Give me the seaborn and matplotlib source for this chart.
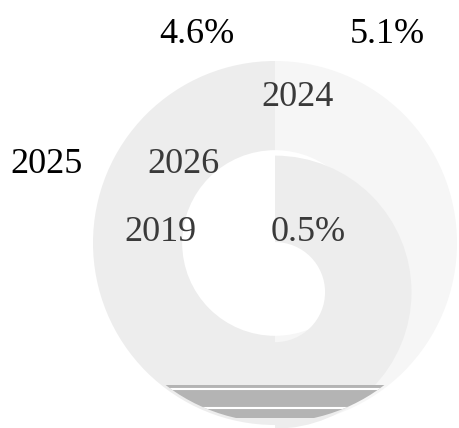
import matplotlib
matplotlib.use("Agg")
import matplotlib.pyplot as plt
import matplotlib.patches as mpatches
import seaborn as sns

# ── Data ──────────────────────────────────────────────────────────────────────
outer_years  = ["2025", "2024"]
outer_share  = [50, 50]
inner_years  = ["2026", "2019"]
inner_share  = [50, 50]
label_texts  = ["4.6%", "5.1%", "2025", "2024", "2026", "2019", "0.5%"]

# ── Layout / style ────────────────────────────────────────────────────────────
label_pos = [(-0.429, 1.17), (0.615, 1.17), (-1.253, 0.451), (0.126, 0.819),
             (-0.505, 0.451), (-0.632, 0.082), (0.181, 0.082)]
label_col = ["black", "black", "black", "#3a3a3a", "#3a3a3a", "#3a3a3a", "#3a3a3a"]

sns.set_theme(style="white")
plt.rcParams["font.family"] = ["Liberation Serif", "DejaVu Serif"]

fig = plt.figure(figsize=(4.59, 4.28), dpi=100)
ax = fig.add_axes([0, 0, 1, 1])
ax.set_axis_off()

# outer ring: left half mid grey, right half lighter
ax.pie(outer_share, colors=["#ededed", "#f6f6f6"], startangle=90, radius=1.0,
       wedgeprops=dict(width=0.49, linewidth=0))

# inner ring (drawn slightly off-centre, only its right half is visible)
inner, _ = ax.pie(inner_share, colors=["#ededed", "#ededed"], startangle=90,
                  radius=0.75, center=(0, -0.27),
                  wedgeprops=dict(width=0.475, linewidth=0))
inner[0].set_visible(False)

# grey strip artefact at the bottom of the ring
ring = mpatches.Circle((0, 0), 0.985, facecolor="none", edgecolor="none")
ax.add_patch(ring)
band = ax.axhspan(-0.96, -0.78, color="#b4b4b4", lw=0)
band.set_clip_path(ring)
for yy in [-0.80, -0.905]:
    ln, = ax.plot([-1, 1], [yy, yy], color="white", lw=1.5)
    ln.set_clip_path(ring)

for txt, (x, y), c in zip(label_texts, label_pos, label_col):
    ax.text(x, y, txt, ha="center", va="center_baseline", fontsize=26, color=c)

ax.set_xlim(-275 / 182, 184 / 182)
ax.set_ylim(-185 / 182, 243 / 182)
ax.set_aspect("auto")

fig.savefig("out.png", dpi=100)
